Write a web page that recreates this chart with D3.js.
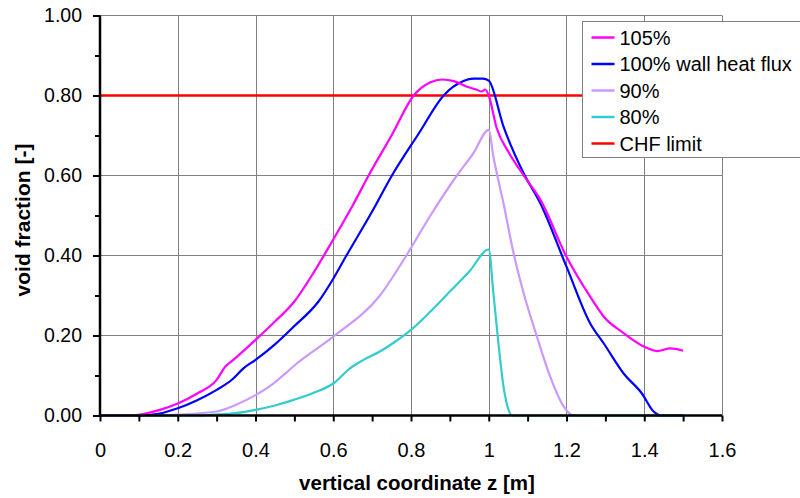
<!DOCTYPE html>
<html>
<head>
<meta charset="utf-8">
<script src="https://cdn.jsdelivr.net/npm/d3@7"></script>
<style>
  body { margin: 0; background: #fff; }
  svg { font-family: Arial, "Liberation Sans", sans-serif; }
</style>
</head>
<body>
<svg id="chart" width="800" height="498"></svg>
<script>
// values
const xTicks = [0, 0.2, 0.4, 0.6, 0.8, 1, 1.2, 1.4, 1.6];
const yTicks = [0, 0.2, 0.4, 0.6, 0.8, 1.0];
const chfLimit = 0.80;

const z105 = [0, 0.08, 0.154, 0.2, 0.25, 0.3, 0.322, 0.343, 0.4, 0.45, 0.5, 0.55, 0.6, 0.65, 0.691, 0.75, 0.807, 0.85, 0.88, 0.91, 0.944, 0.965, 0.982, 0.991, 1.0, 1.02, 1.05, 1.09, 1.133, 1.2, 1.261, 1.296, 1.347, 1.40, 1.433, 1.467, 1.5];
const v105 = [0, 0, 0.014, 0.03, 0.055, 0.089, 0.122, 0.139, 0.189, 0.235, 0.285, 0.358, 0.44, 0.525, 0.60, 0.70, 0.80, 0.833, 0.84, 0.836, 0.822, 0.816, 0.81, 0.815, 0.80, 0.72, 0.66, 0.60, 0.539, 0.397, 0.297, 0.247, 0.206, 0.172, 0.161, 0.168, 0.162];

const z100 = [0, 0.098, 0.154, 0.2, 0.25, 0.3, 0.34, 0.369, 0.4, 0.45, 0.498, 0.562, 0.6, 0.631, 0.7, 0.751, 0.82, 0.884, 0.935, 0.961, 0.985, 1.0, 1.038, 1.09, 1.133, 1.2, 1.261, 1.296, 1.347, 1.394, 1.424, 1.446, 1.5];
const v100 = [0, 0, 0.005, 0.018, 0.038, 0.064, 0.09, 0.118, 0.139, 0.178, 0.222, 0.285, 0.342, 0.395, 0.51, 0.60, 0.705, 0.80, 0.836, 0.842, 0.842, 0.837, 0.722, 0.605, 0.53, 0.372, 0.23, 0.18, 0.105, 0.055, 0.01, 0, 0];

const z90 = [0, 0.15, 0.2, 0.3, 0.35, 0.4, 0.45, 0.48, 0.5, 0.6, 0.72, 0.788, 0.85, 0.918, 0.96, 1.0, 1.012, 1.038, 1.064, 1.09, 1.124, 1.158, 1.193, 1.218, 1.5];
const v90 = [0, 0, 0.002, 0.01, 0.027, 0.051, 0.083, 0.108, 0.125, 0.197, 0.30, 0.40, 0.50, 0.60, 0.655, 0.714, 0.647, 0.53, 0.405, 0.305, 0.197, 0.097, 0.022, 0, 0];

const z80 = [0, 0.25, 0.29, 0.35, 0.4, 0.45, 0.498, 0.55, 0.6, 0.643, 0.678, 0.72, 0.76, 0.8, 0.85, 0.9, 0.95, 1.0, 1.012, 1.025, 1.038, 1.051, 1.06, 1.5];
const v80 = [0, 0, 0.002, 0.006, 0.014, 0.025, 0.039, 0.057, 0.08, 0.118, 0.139, 0.16, 0.185, 0.214, 0.26, 0.31, 0.36, 0.415, 0.305, 0.18, 0.072, 0.014, 0, 0];

const seriesNames = ["105%", "100% wall heat flux", "90%", "80%", "CHF limit"];
const seriesColors = ["#FF00FF", "#0000FF", "#CC99FF", "#33CCCC", "#FF0000"];

const margin = {top: 15.5, left: 100, right: 78, bottom: 82.5};
const width = 800 - margin.left - margin.right;
const height = 498 - margin.top - margin.bottom;

const svg = d3.select("#chart");
const g = svg.append("g")
    .attr("transform", "translate(" + margin.left + "," + margin.top + ")");

const x = d3.scaleLinear().domain([0, 1.6]).range([0, width]);
const y = d3.scaleLinear().domain([0, 1.0]).range([height, 0]);

// grid
g.append("g")
    .selectAll("line")
    .data(xTicks.slice(1))
    .join("line")
        .attr("x1", d => Math.round(x(d)) + 0.5)
        .attr("x2", d => Math.round(x(d)) + 0.5)
        .attr("y1", 0)
        .attr("y2", height)
        .attr("stroke", "#808080")
        .attr("stroke-width", 1);
g.append("g")
    .selectAll("line")
    .data(yTicks.slice(1))
    .join("line")
        .attr("x1", 0)
        .attr("x2", width)
        .attr("y1", d => y(d))
        .attr("y2", d => y(d))
        .attr("stroke", "#808080")
        .attr("stroke-width", 1);

// CHF limit
g.append("line")
    .attr("x1", x(0))
    .attr("x2", x(1.6))
    .attr("y1", y(chfLimit))
    .attr("y2", y(chfLimit))
    .attr("stroke", seriesColors[4])
    .attr("stroke-width", 2.5);

const line = d3.line()
    .x(d => x(d[0]))
    .y(d => y(d[1]))
    .curve(d3.curveMonotoneX);

const curves = [
    {z: z80, v: v80, color: seriesColors[3]},
    {z: z90, v: v90, color: seriesColors[2]},
    {z: z100, v: v100, color: seriesColors[1]},
    {z: z105, v: v105, color: seriesColors[0]}
];
// 80% ends up on top along the zero line like in the picture
const order = [curves[1], curves[2], curves[3], curves[0]];

g.selectAll(".curve")
    .data(order)
    .join("path")
        .attr("class", "curve")
        .attr("fill", "none")
        .attr("stroke", d => d.color)
        .attr("stroke-width", 2.2)
        .attr("stroke-linejoin", "round")
        .attr("d", d => line(d.z.map((zz, i) => [zz, d.v[i]])));

// axes
const xAxis = g.append("g")
    .attr("transform", "translate(0," + height + ")")
    .call(d3.axisBottom(x)
        .tickValues(d3.range(0, 17).map(i => i / 10))
        .tickSize(6)
        .tickFormat(d => {
            const r = Math.round(d * 10);
            return r % 2 === 0 ? d3.format("")(r / 10) : "";
        }));
xAxis.select(".domain").attr("d", "M0,0H" + width).attr("stroke-width", 2.5);
xAxis.selectAll(".tick line").attr("stroke-width", 2);
xAxis.selectAll("text")
    .attr("font-size", 20)
    .attr("y", 41.5)
    .attr("dy", 0)
    .attr("fill", "#000");

const yAxis = g.append("g")
    .call(d3.axisLeft(y)
        .tickValues(d3.range(0, 11).map(i => i / 10))
        .tickSize(7)
        .tickFormat(d => Math.round(d * 10) % 2 === 0 ? d3.format(".2f")(d) : ""));
yAxis.select(".domain").attr("d", "M0," + height + "V0").attr("stroke-width", 2.5);
yAxis.selectAll(".tick line").attr("stroke-width", 2);
yAxis.selectAll(".tick")
    .filter(d => Math.round(d * 10) % 2 === 1)
    .select("line").attr("x2", -5);
yAxis.selectAll("text")
    .attr("font-size", 19.5)
    .attr("x", -18)
    .attr("fill", "#000");

// axis titles
svg.append("text")
    .attr("x", 417)
    .attr("y", 490)
    .attr("text-anchor", "middle")
    .attr("font-size", 20.5)
    .attr("font-weight", "bold")
    .text("vertical coordinate z [m]");
svg.append("text")
    .attr("transform", "translate(30,220)rotate(-90)")
    .attr("text-anchor", "middle")
    .attr("font-size", 21)
    .attr("font-weight", "bold")
    .text("void fraction [-]");

// legend
const legend = svg.append("g").attr("transform", "translate(582.5,21.5)");
legend.append("rect")
    .attr("width", 240)
    .attr("height", 136)
    .attr("fill", "#fff")
    .attr("stroke", "#808080");
const items = legend.selectAll(".item")
    .data(seriesNames)
    .join("g")
        .attr("class", "item")
        .attr("transform", (d, i) => "translate(0," + (16 + i * 26.5) + ")");
items.append("line")
    .attr("x1", 9).attr("x2", 32)
    .attr("stroke", (d, i) => seriesColors[i])
    .attr("stroke-width", 2.5);
items.append("text")
    .attr("x", 37)
    .attr("dy", "0.35em")
    .attr("font-size", 20)
    .text(d => d);
</script>
</body>
</html>
